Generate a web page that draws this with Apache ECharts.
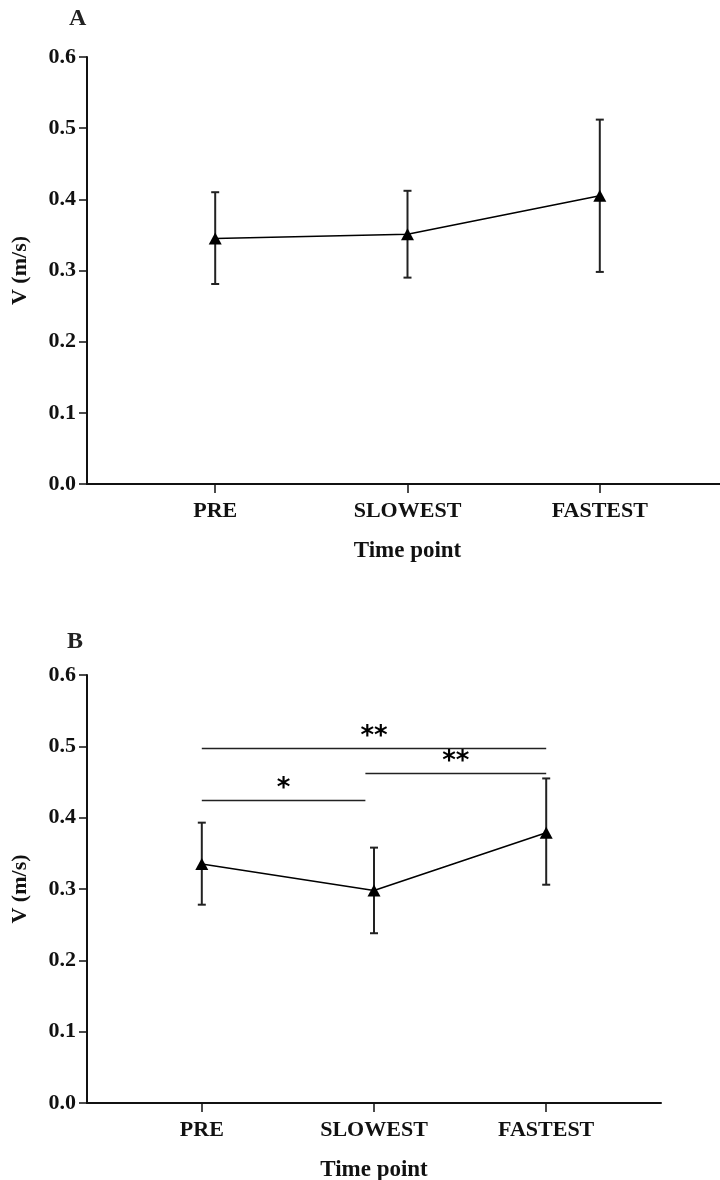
<!DOCTYPE html>
<html>
<head>
<meta charset="utf-8">
<script src="https://cdn.jsdelivr.net/npm/echarts@6/dist/echarts.min.js"></script>
<style>
  html, body { margin: 0; padding: 0; background: #fff; }
  #chart { width: 720px; height: 1180px; }
</style>
</head>
<body>
<div id="chart"></div>
<script>
const categories = ['PRE', 'SLOWEST', 'FASTEST']
const positions = [1, 2, 3]

// panel A: mean and error bar ends
const meanA = [0.345, 0.351, 0.405]
const lowA = [0.281, 0.290, 0.298]
const highA = [0.410, 0.412, 0.512]

// panel B
const meanB = [0.335, 0.298, 0.379]
const lowB = [0.278, 0.238, 0.306]
const highB = [0.393, 0.358, 0.455]

// significance brackets in B: [from x, to x, y, label]
const sigB = [
  [1, 3, 0.497, '**'],
  [1.95, 3, 0.462, '**'],
  [1, 1.95, 0.424, '*']
]

const serif = '"Liberation Serif", "Times New Roman", serif'
const black = '#111'

const chart = echarts.init(document.getElementById('chart'))

function xAxisOf(gridIndex) {
  return {
    type: 'value', gridIndex,
    min: 1 / 3, max: 11 / 3,
    name: 'Time point', nameLocation: 'middle', nameGap: 56,
    nameTextStyle: { fontFamily: serif, fontWeight: 'bold', fontSize: 23, color: black },
    axisLine: { onZero: false, lineStyle: { color: black, width: 2 } },
    axisTick: { show: true, length: 9, customValues: positions, lineStyle: { color: black, width: 1.5 } },
    axisLabel: {
      customValues: positions, margin: 16,
      formatter: v => categories[Math.round(v) - 1] || '',
      fontFamily: serif, fontWeight: 'bold', fontSize: 22, color: black
    },
    splitLine: { show: false }
  }
}

function yAxisOf(gridIndex) {
  return {
    type: 'value', gridIndex,
    min: 0, max: 0.6, interval: 0.1,
    name: 'V (m/s)', nameLocation: 'middle', nameGap: 56,
    nameTextStyle: { fontFamily: serif, fontWeight: 'bold', fontSize: 22, color: black },
    axisLine: { show: true, lineStyle: { color: black, width: 2 } },
    axisTick: { show: true, length: 8, lineStyle: { color: black, width: 1.5 } },
    axisLabel: {
      margin: 11,
      formatter: v => v.toFixed(1),
      fontFamily: serif, fontWeight: 'bold', fontSize: 22, color: black
    },
    splitLine: { show: false }
  }
}

function errorSeries(idx, low, high) {
  return {
    type: 'custom', xAxisIndex: idx, yAxisIndex: idx, z: 1,
    data: positions.map((p, i) => [p, low[i], high[i]]),
    renderItem: (params, api) => {
      const lo = api.coord([api.value(0), api.value(1)])
      const hi = api.coord([api.value(0), api.value(2)])
      const w = 4
      const style = { stroke: '#222', lineWidth: 2 }
      return {
        type: 'group',
        children: [
          { type: 'line', shape: { x1: lo[0], y1: lo[1], x2: hi[0], y2: hi[1] }, style },
          { type: 'line', shape: { x1: lo[0] - w, y1: lo[1], x2: lo[0] + w, y2: lo[1] }, style },
          { type: 'line', shape: { x1: hi[0] - w, y1: hi[1], x2: hi[0] + w, y2: hi[1] }, style }
        ]
      }
    }
  }
}

function meanSeries(idx, mean) {
  return {
    type: 'line', xAxisIndex: idx, yAxisIndex: idx, z: 3,
    data: positions.map((p, i) => [p, mean[i]]),
    symbol: 'triangle', symbolSize: [13, 12],
    itemStyle: { color: '#000' },
    lineStyle: { color: '#000', width: 1.6 },
    silent: true
  }
}

chart.setOption({
  animation: false,
  backgroundColor: '#fff',
  grid: [
    { left: 87, top: 57, width: 641, height: 427, outerBoundsMode: 'none' },
    { left: 87, top: 675, width: 574, height: 428, outerBoundsMode: 'none' }
  ],
  xAxis: [xAxisOf(0), xAxisOf(1)],
  yAxis: [yAxisOf(0), yAxisOf(1)],
  graphic: [
    { type: 'text', left: 69, top: 7, style: { text: 'A', font: 'bold 24px ' + serif, fill: '#222' } },
    { type: 'text', left: 67, top: 630, style: { text: 'B', font: 'bold 24px ' + serif, fill: '#222' } }
  ],
  series: [
    errorSeries(0, lowA, highA),
    meanSeries(0, meanA),
    errorSeries(1, lowB, highB),
    meanSeries(1, meanB),
    {
      type: 'custom', xAxisIndex: 1, yAxisIndex: 1, z: 2,
      data: sigB,
      renderItem: (params, api) => {
        const a = api.coord([api.value(0), api.value(2)])
        const b = api.coord([api.value(1), api.value(2)])
        const label = sigB[params.dataIndex][3]
        return {
          type: 'group',
          children: [
            { type: 'line', shape: { x1: a[0], y1: a[1], x2: b[0], y2: b[1] }, style: { stroke: '#222', lineWidth: 1.5 } },
            {
              type: 'text', x: (a[0] + b[0]) / 2, y: a[1] + 2,
              style: {
                text: label, fill: '#000',
                font: 'bold 26px "DejaVu Sans", sans-serif',
                align: 'center', verticalAlign: 'bottom'
              }
            }
          ]
        }
      }
    }
  ]
})
</script>
</body>
</html>
